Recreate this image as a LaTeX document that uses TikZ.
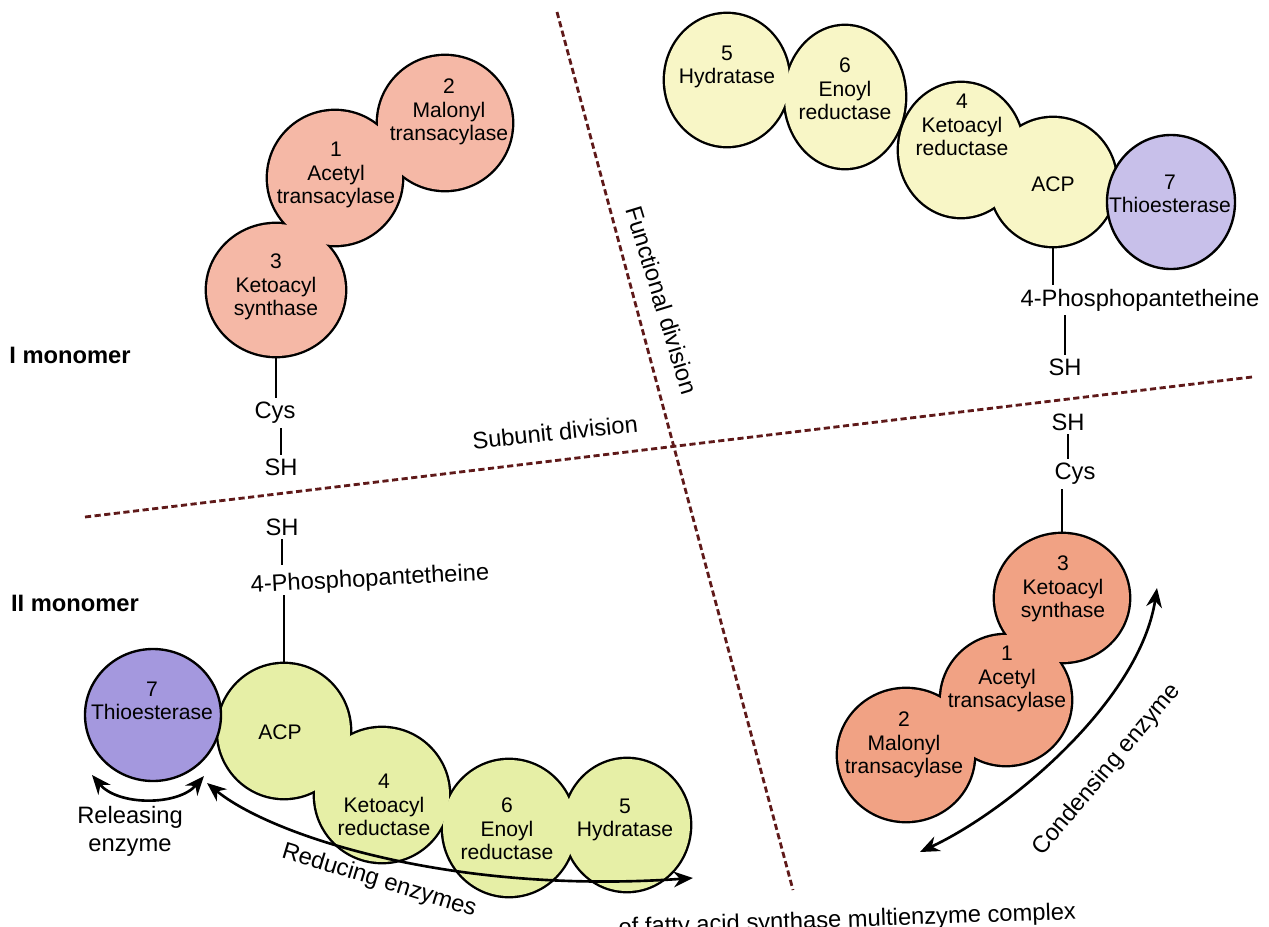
\documentclass[tikz,border=0pt]{standalone}
\usepackage{fontspec}
\setmainfont{Liberation Sans}
\usetikzlibrary{shapes.geometric,arrows.meta}
\pgfdeclarelayer{background}
\pgfsetlayers{background,main}
\definecolor{salA}{RGB}{245,184,166}
\definecolor{salB}{RGB}{241,162,132}
\definecolor{yelA}{RGB}{248,246,198}
\definecolor{yelB}{RGB}{230,239,166}
\definecolor{purA}{RGB}{200,192,234}
\definecolor{purB}{RGB}{164,152,222}
\definecolor{divred}{RGB}{95,25,25}
\tikzset{
  bedge/.style={ellipse, draw=black, line width=2.7pt, inner sep=0pt, outer sep=0pt},
  bfill/.style={ellipse, fill=#1, draw=none, inner sep=0pt, outer sep=0pt},
  bpurple/.style={ellipse, fill=#1, draw=black, line width=1.35pt, inner sep=0pt, outer sep=0pt},
  enz/.style={align=center, font=\fontsize{12}{13.3}\selectfont, inner sep=0pt},
  lab/.style={align=center, font=\fontsize{13.5}{16}\selectfont, inner sep=2pt},
  mono/.style={font=\fontsize{13.5}{16}\selectfont\bfseries, inner sep=0pt},
  link/.style={line width=1.3pt},
  divline/.style={draw=divred, line width=1.6pt, dash pattern=on 3.5pt off 2pt},
  dbl/.style={line width=1.5pt, {Stealth[length=11pt,width=9pt]}-{Stealth[length=11pt,width=9pt]}},
}
\begin{document}
\begin{tikzpicture}[x=0.02cm,y=-0.02cm]
\useasboundingbox[fill=white] (0,0) rectangle (1269,927);

% ---------- division lines ----------
\coordinate (sd1) at (85,517);
\coordinate (sd2) at (1252,377);
\coordinate (fd1) at (557,12);
\coordinate (fd2) at (793,890);
\draw[divline] (sd1) -- (sd2);
\draw[divline] (fd1) -- (fd2);

% ---------- top-left group (I monomer, condensing) ----------
\foreach \n/\x/\y/\rx/\ry in {tl2/445/123/67/67, tl1/335/178/67/67, tl3/276/290/69/66}
  \node[bedge, minimum width=2*\rx*0.02cm, minimum height=2*\ry*0.02cm] (e-\n) at (\x,\y) {};
\foreach \n/\x/\y/\rx/\ry in {tl2/445/123/67/67, tl1/335/178/67/67, tl3/276/290/69/66}
  \node[bfill=salA, minimum width=2*\rx*0.02cm, minimum height=2*\ry*0.02cm] (\n) at (\x,\y) {};
\node[enz] (t-tl2) at (449,112) {2\\Malonyl\\transacylase};
\node[enz] (t-tl1) at (336,175) {1\\Acetyl\\transacylase};
\node[enz] (t-tl3) at (276,287) {3\\Ketoacyl\\synthase};

% ---------- top-right group (I monomer, reducing) ----------
\foreach \n/\x/\y/\rx/\ry in {trh/727/80/62/66, tre/845/97/60/71, trk/961/150/62/67, tra/1053/182/63/64}
  \node[bedge, minimum width=2*\rx*0.02cm, minimum height=2*\ry*0.02cm] (e-\n) at (\x,\y) {};
\foreach \n/\x/\y/\rx/\ry in {trh/727/80/62/66, tre/845/97/60/71, trk/961/150/62/67, tra/1053/182/63/64}
  \node[bfill=yelA, minimum width=2*\rx*0.02cm, minimum height=2*\ry*0.02cm] (\n) at (\x,\y) {};
\node[bpurple=purA, minimum width=128*0.02cm, minimum height=134*0.02cm] (trt) at (1171,202) {};
\node[enz] (t-trh) at (727,67) {5\\Hydratase};
\node[enz] (t-tre) at (845,89) {6\\Enoyl\\reductase};
\node[enz] (t-trk) at (962,125) {4\\Ketoacyl\\reductase};
\node[enz] (t-tra) at (1053,184) {ACP};
\node[enz] (t-trt) at (1170,194) {7\\Thioesterase};

% ---------- bottom-left group (II monomer, reducing) ----------
\foreach \n/\x/\y/\rx/\ry in {bla/284/731/66/67, blk/382/795/67/67, ble/509/828/66/68, blh/627/825/63/66}
  \node[bedge, minimum width=2*\rx*0.02cm, minimum height=2*\ry*0.02cm] (e-\n) at (\x,\y) {};
\foreach \n/\x/\y/\rx/\ry in {bla/284/731/66/67, blk/382/795/67/67, ble/509/828/66/68, blh/627/825/63/66}
  \node[bfill=yelB, minimum width=2*\rx*0.02cm, minimum height=2*\ry*0.02cm] (\n) at (\x,\y) {};
\node[bpurple=purB, minimum width=136*0.02cm, minimum height=132*0.02cm] (blt) at (153,715) {};
\node[enz] (t-blt) at (152,701) {7\\Thioesterase};
\node[enz] (t-bla) at (280,732) {ACP};
\node[enz] (t-blk) at (384,805) {4\\Ketoacyl\\reductase};
\node[enz] (t-ble) at (507,829) {6\\Enoyl\\reductase};
\node[enz] (t-blh) at (625,820) {5\\Hydratase};

% ---------- bottom-right group (II monomer, condensing) ----------
\foreach \n/\x/\y/\rx/\ry in {br3/1062/598/67/64, br1/1006/700/65/65, br2/906/755/68/66}
  \node[bedge, minimum width=2*\rx*0.02cm, minimum height=2*\ry*0.02cm] (e-\n) at (\x,\y) {};
\foreach \n/\x/\y/\rx/\ry in {br3/1062/598/67/64, br1/1006/700/65/65, br2/906/755/68/66}
  \node[bfill=salB, minimum width=2*\rx*0.02cm, minimum height=2*\ry*0.02cm] (\n) at (\x,\y) {};
\node[enz] (t-br3) at (1063,589) {3\\Ketoacyl\\synthase};
\node[enz] (t-br1) at (1007,679) {1\\Acetyl\\transacylase};
\node[enz] (t-br2) at (904,745) {2\\Malonyl\\transacylase};

% ---------- side chain labels ----------
\node[lab] (cysTL) at (275,413) {Cys};
\node[lab] (shTL) at (281,467) {SH};
\node[lab] (ppTR) at (1140,300) {4-Phosphopantetheine};
\node[lab] (shTR) at (1065,367) {SH};
\node[lab] (shBR) at (1068,422) {SH};
\node[lab] (cysBR) at (1075,474) {Cys};
\node[lab] (shBL) at (282,527) {SH};
\node[lab, rotate=3] (ppBL) at (370,580) {4-Phosphopantetheine};

% ---------- other labels ----------
\node[mono] (mon1) at (70,355) {I monomer};
\node[mono] (mon2) at (75,603) {II monomer};
\node[lab, rotate=6] (subdiv) at (555,432) {Subunit division};
\node[lab, rotate=-73] (fundiv) at (662,300) {Functional division};
\node[lab] (relen) at (130,831) {Releasing\\enzyme};
\node[lab, rotate=-17] (reden) at (379,881) {Reducing enzymes};
\node[lab, rotate=50] (conden) at (1107,770) {Condensing enzyme};
\node[lab, rotate=2, anchor=base east] (caption) at (1080,919) {of fatty acid synthase multienzyme complex};

% ---------- connectors ----------
\begin{pgfonlayer}{background}
\draw[link] (tl2.40) -- (trh.180);
\draw[link] (blh.18) -- (br2.220);
\end{pgfonlayer}
\draw[link] (tl3.south) -- (tl3.south |- cysTL.north);
\draw[link] (shTL.north) -- (shTL.north |- cysTL.south);
\draw[link] (tra.south) -- (tra.south |- ppTR.north);
\draw[link] (shTR.north) -- (shTR.north |- ppTR.south);
\draw[link] (shBR.south) -- (shBR.south |- cysBR.north);
\draw[link] (br3.north) -- (br3.north |- cysBR.south);
\draw[link] (shBL.south) -- (shBL.south |- ppBL.north);
\draw[link] (bla.north) -- (bla.north |- ppBL.south);

% ---------- enzyme arrows ----------
\coordinate (cond1) at (1157,588);
\coordinate (cond2) at (920,852);
\draw[dbl] (cond1) .. controls (1140,700) and (1010,810) .. (cond2);
\coordinate (red1) at (207,783);
\coordinate (red2) at (693,878);
\draw[dbl] (red1) .. controls (270,835) and (450,895) .. (red2);
\coordinate (rel1) at (92,775);
\coordinate (rel2) at (204,776);
\draw[dbl] (rel1) .. controls (118,806) and (178,806) .. (rel2);
\end{tikzpicture}
\end{document}
